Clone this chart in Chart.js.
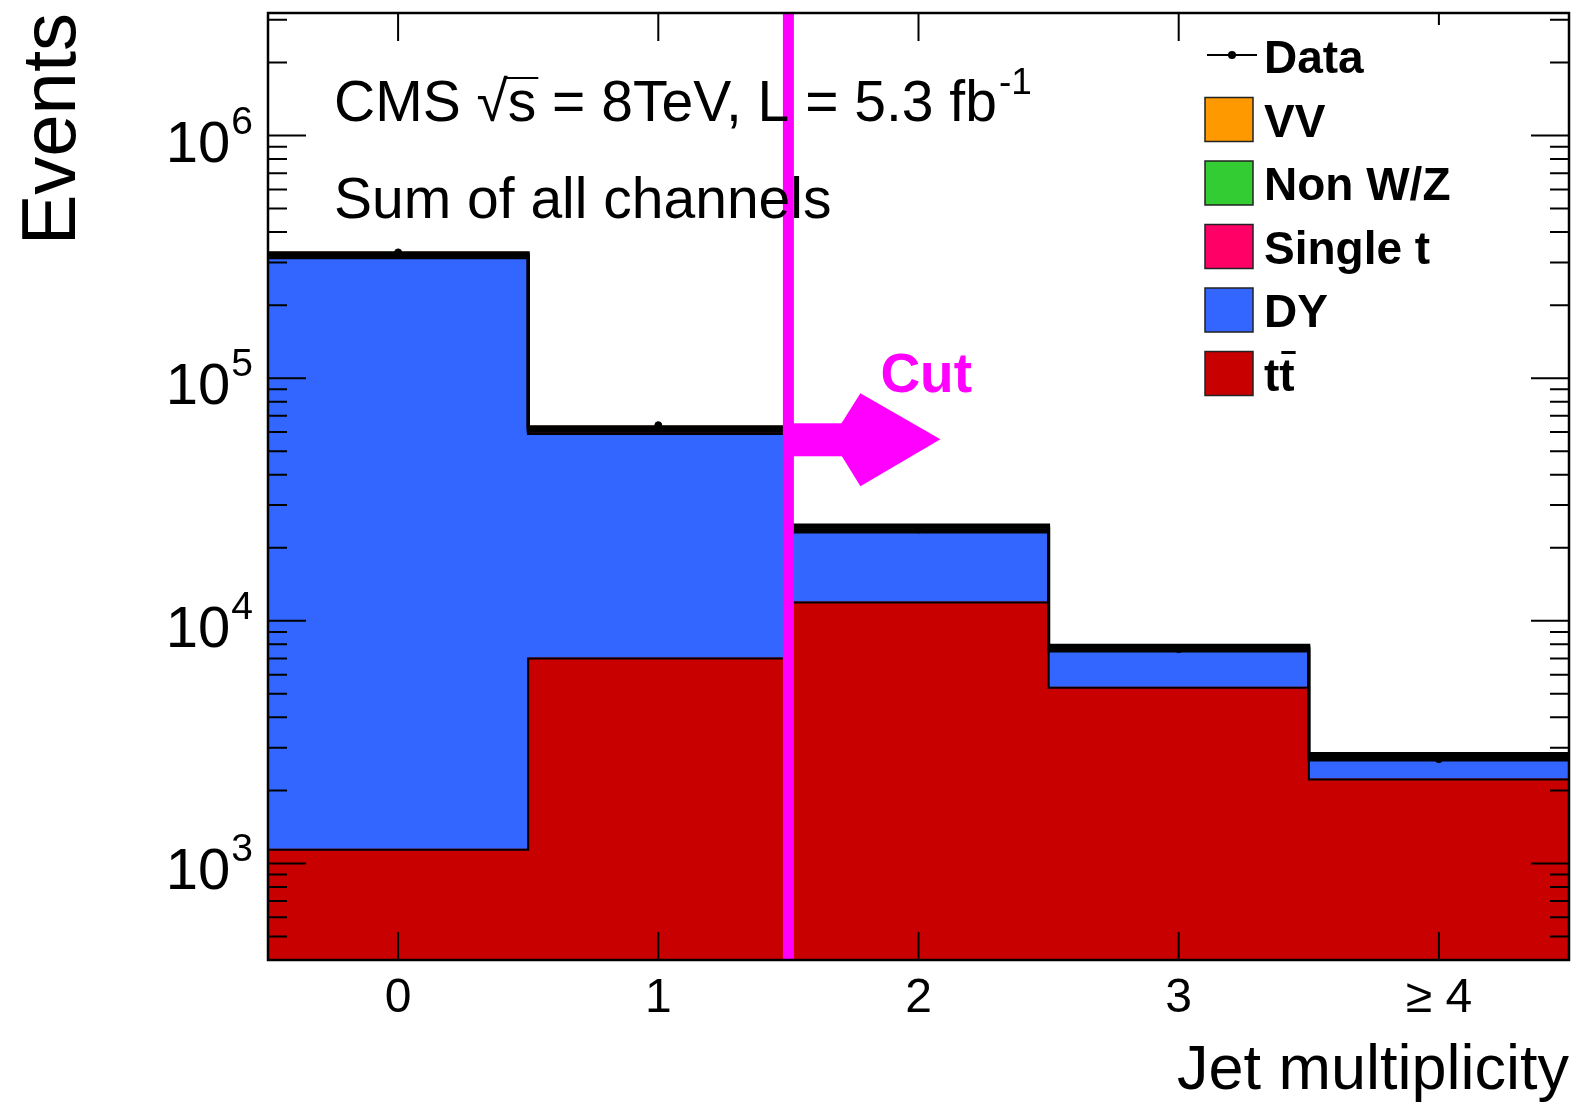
<!DOCTYPE html>
<html>
<head>
<meta charset="utf-8">
<script src="https://cdn.jsdelivr.net/npm/chart.js@4.4.1/dist/chart.umd.min.js"></script>
<style>
  html, body { margin: 0; padding: 0; background: #fff; }
  canvas { display: block; }
</style>
</head>
<body>
<canvas id="jetChart" width="1574" height="1113"></canvas>
<script>
// Jet multiplicity, stacked MC vs data (events per bin)
const jetBins = ['0', '1', '2', '3', '≥ 4'];
const ttbarEvents = [1140, 7000, 11900, 5300, 2220];
const dyEvents = [312000, 52000, 11300, 2200, 440];
const singleTopEvents = [5500, 1400, 550, 150, 60];
const nonWZEvents = [5300, 1350, 530, 145, 60];
const vvEvents = [5200, 1350, 520, 145, 60];
const dataEvents = [330000, 64000, 23800, 7650, 2690];
const yDecades = [3, 4, 5, 6];
const cutAfterBin = 1;      // cut sits between bin 1 and bin 2
const cutArrowLevel = 56000; // height of the arrow in events

const FONT = "'Liberation Sans', Arial, Helvetica, sans-serif";

const barSet = (label, data, color, line) => ({
    label: label,
    data: data,
    backgroundColor: color,
    borderWidth: 0,
    outlineWidth: line,
    inflateAmount: 1,
    categoryPercentage: 1.0,
    barPercentage: 1.0,
    stack: 'mc',
    order: 1,
});

// black step outline of every histogram: bin tops and the edges between bins.
// drawn right before the data points so the points stay on top
const stepOutline = {
    id: 'stepOutline',
    beforeDatasetDraw(chart, args) {
        if (args.meta.type !== 'line') return;
        const ctx = chart.ctx;
        ctx.save();
        ctx.strokeStyle = '#000';
        chart.data.datasets.forEach((ds, i) => {
            if (ds.type === 'line') return;
            const bars = chart.getDatasetMeta(i).data;
            ctx.lineWidth = ds.outlineWidth;
            ctx.beginPath();
            bars.forEach((b, j) => {
                const x0 = b.x - b.width / 2, x1 = b.x + b.width / 2;
                if (j === 0) ctx.moveTo(x0, b.y); else ctx.lineTo(x0, b.y);
                ctx.lineTo(x1, b.y);
            });
            ctx.stroke();
        });
        ctx.restore();
    }
};

// magenta cut line with arrow
const cutMarker = {
    id: 'cutMarker',
    afterDatasetsDraw(chart) {
        const { ctx, chartArea, scales } = chart;
        const xs = scales.x, ys = scales.y;
        const x = (xs.getPixelForValue(cutAfterBin) + xs.getPixelForValue(cutAfterBin + 1)) / 2;
        const y = ys.getPixelForValue(cutArrowLevel);
        ctx.save();
        ctx.fillStyle = '#ff00ff';
        ctx.fillRect(x - 5.5, chartArea.top, 11, chartArea.bottom - chartArea.top);
        // shaft
        ctx.fillRect(x, y - 16, 62, 33);
        // head
        ctx.beginPath();
        ctx.moveTo(x + 72, y - 46);
        ctx.lineTo(x + 152, y);
        ctx.lineTo(x + 72, y + 47);
        ctx.lineTo(x + 43, y);
        ctx.closePath();
        ctx.fill();
        ctx.font = 'bold 55px ' + FONT;
        ctx.textBaseline = 'alphabetic';
        ctx.fillText('Cut', x + 92, y - 47);
        ctx.restore();
    }
};

const frameAndLabels = {
    id: 'frameAndLabels',
    afterDraw(chart) {
        const { ctx, chartArea, scales } = chart;
        const { left, right, top, bottom } = chartArea;
        const ys = scales.y, xs = scales.x;
        ctx.save();
        ctx.strokeStyle = '#000';
        ctx.fillStyle = '#000';

        // y ticks, inside on both sides
        ctx.lineWidth = 2;
        const yMin = ys.min, yMax = ys.max;
        for (let e = Math.floor(Math.log10(yMin)); e <= Math.ceil(Math.log10(yMax)); e++) {
            for (let m = 1; m <= 9; m++) {
                const v = m * Math.pow(10, e);
                if (v < yMin || v > yMax) continue;
                const py = ys.getPixelForValue(v);
                const len = m === 1 ? 38 : 19;
                ctx.beginPath();
                ctx.moveTo(left, py); ctx.lineTo(left + len, py);
                ctx.moveTo(right, py); ctx.lineTo(right - len, py);
                ctx.stroke();
            }
        }
        // x ticks at bin centres, bottom and top
        jetBins.forEach((b, i) => {
            const px = xs.getPixelForValue(i);
            ctx.beginPath();
            ctx.moveTo(px, bottom); ctx.lineTo(px, bottom - 28);
            ctx.moveTo(px, top); ctx.lineTo(px, top + (i === jetBins.length - 1 ? 12 : 28));
            ctx.stroke();
        });

        // frame
        ctx.lineWidth = 2.5;
        ctx.strokeRect(left, top, right - left, bottom - top);

        // y tick labels 10^n
        yDecades.forEach(d => {
            const py = ys.getPixelForValue(Math.pow(10, d));
            ctx.font = '39px ' + FONT;
            const sup = String(d);
            const supW = ctx.measureText(sup).width;
            const xr = left - 15;
            ctx.textAlign = 'left';
            ctx.fillText(sup, xr - supW, py - 2);
            ctx.font = '58px ' + FONT;
            ctx.textAlign = 'right';
            ctx.fillText('10', xr - supW - 1, py + 26);
        });

        // header text
        ctx.textAlign = 'left';
        ctx.font = '57px ' + FONT;
        let tx = 334;
        const base1 = 121;
        const put = (s) => { ctx.fillText(s, tx, base1); tx += ctx.measureText(s).width; };
        put('CMS ');
        put('\u221A');
        const sx = tx;
        put('s');
        ctx.lineWidth = 2;
        ctx.beginPath();
        ctx.moveTo(sx - 3, base1 - 43);
        ctx.lineTo(tx + 2, base1 - 43);
        ctx.stroke();
        put(' = 8TeV, L = 5.3 fb');
        ctx.font = '37px ' + FONT;
        ctx.fillText('-1', tx + 2, base1 - 27);
        ctx.font = '57px ' + FONT;
        ctx.fillText('Sum of all channels', 334, 218);

        // legend
        const rows = [];
        chart.data.datasets.forEach(ds => { if (ds.type === 'line') rows.push(ds); });
        chart.data.datasets.slice().reverse().forEach(ds => { if (ds.type !== 'line') rows.push(ds); });
        ctx.font = 'bold 46px ' + FONT;
        const lx = 1205, tx0 = 1264;
        rows.forEach((ds, k) => {
            const cy = 56 + k * 63.5;
            if (ds.type === 'line') {
                ctx.lineWidth = 2;
                ctx.beginPath();
                ctx.moveTo(lx + 2, cy - 1); ctx.lineTo(lx + 52, cy - 1);
                ctx.stroke();
                ctx.beginPath();
                ctx.arc(lx + 27, cy - 1, 4, 0, Math.PI * 2);
                ctx.fill();
            } else {
                ctx.fillStyle = ds.backgroundColor;
                ctx.fillRect(lx, cy - 22, 48, 44);
                ctx.lineWidth = 1.5;
                ctx.strokeStyle = '#222';
                ctx.strokeRect(lx, cy - 22, 48, 44);
                ctx.fillStyle = '#000';
                ctx.strokeStyle = '#000';
            }
            if (ds.label === 'tt\u0304') {
                const w1 = ctx.measureText('t').width;
                ctx.fillText('tt', tx0, cy + 17);
                ctx.lineWidth = 3;
                ctx.beginPath();
                ctx.moveTo(tx0 + w1 + 2, cy - 21);
                ctx.lineTo(tx0 + 2 * w1 + 1, cy - 21);
                ctx.stroke();
            } else {
                ctx.fillText(ds.label, tx0, cy + 17);
            }
        });
        ctx.restore();
    }
};

const jetChart = new Chart(document.getElementById('jetChart'), {
    type: 'bar',
    data: {
        labels: jetBins,
        datasets: [
            barSet('tt\u0304', ttbarEvents, '#c80000', 2),
            barSet('DY', dyEvents, '#3366ff', 2.5),
            barSet('Single t', singleTopEvents, '#ff0066', 3),
            barSet('Non W/Z', nonWZEvents, '#33cc33', 3),
            barSet('VV', vvEvents, '#ff9900', 3),
            {
                type: 'line',
                label: 'Data',
                data: dataEvents,
                showLine: false,
                pointRadius: 3.5,
                pointBackgroundColor: '#000',
                pointBorderColor: '#000',
                stack: 'data',
                order: 0,
            },
        ]
    },
    options: {
        responsive: false,
        animation: false,
        layout: { padding: { top: 13, right: 5, bottom: 0, left: 0 } },
        plugins: {
            legend: { display: false },
            tooltip: { enabled: false },
        },
        scales: {
            x: {
                stacked: true,
                grid: { display: false, drawTicks: false },
                border: { display: false },
                ticks: { color: '#000', font: { family: FONT, size: 48 }, padding: 10, maxRotation: 0 },
                title: {
                    display: true, text: 'Jet multiplicity', align: 'end', color: '#000',
                    font: { family: FONT, size: 63 }, padding: { top: 0, bottom: 4 },
                },
                afterFit: (scale) => { scale.height = 153; },
            },
            y: {
                type: 'logarithmic',
                stacked: true,
                min: 400,
                max: 3200000,
                grid: { display: false, drawTicks: false },
                border: { display: false },
                ticks: { display: false },
                title: {
                    display: true, text: 'Events', align: 'end', color: '#000',
                    font: { family: FONT, size: 76 }, padding: { top: 8, bottom: 0 },
                },
                afterFit: (scale) => { scale.width = 268; },
            },
        },
    },
    plugins: [stepOutline, cutMarker, frameAndLabels],
});
</script>
</body>
</html>
